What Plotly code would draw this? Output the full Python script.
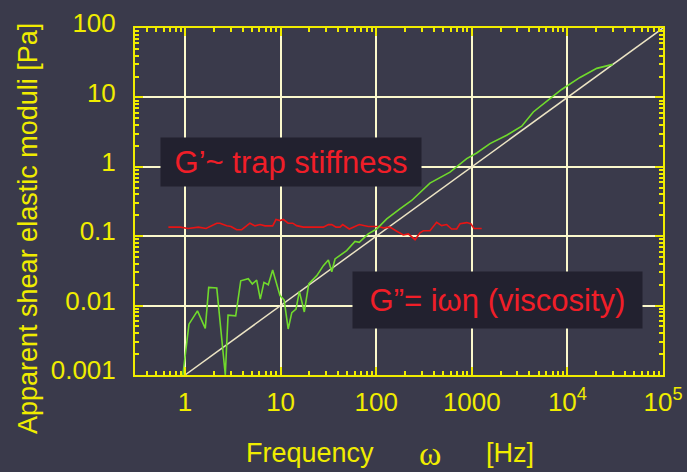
import plotly.graph_objects as go

# ---- data ----
green_x = [0.95, 1.10, 1.35, 1.63, 1.77, 2.15, 2.64, 2.82, 3.39, 3.83, 4.59, 5.06, 5.62, 6.13, 6.70,
           7.43, 8.26, 9.86, 10.9, 12.0, 13.1, 14.5, 15.7, 17.7, 19.7, 23.9, 28.0, 31.6, 34.3, 37.1,
           49.1, 60.0, 66.5, 82.6, 101, 129, 177, 235, 365, 592, 885, 1125, 1550, 2317, 3327,
           4400, 6577, 8710, 13550, 20280, 29800]
green_y = [0.001, 0.0054, 0.0084, 0.0047, 0.0183, 0.0179, 0.001, 0.0073, 0.0071, 0.0228, 0.0244,
           0.0205, 0.0233, 0.0124, 0.0216, 0.0200, 0.0326, 0.0139, 0.0120, 0.0046, 0.0079, 0.0089,
           0.0160, 0.0081, 0.0205, 0.0270, 0.0376, 0.0455, 0.0308, 0.047, 0.062, 0.0843, 0.0816,
           0.108, 0.127, 0.178, 0.248, 0.327, 0.581, 0.838, 1.31, 1.58, 2.16, 2.85, 3.84, 6.17,
           9.64, 13.0, 19.4, 26.2, 29.9]

red_x = [0.67, 0.89, 1.08, 1.38, 1.66, 2.15, 2.32, 2.73, 3.03, 3.47, 3.92, 4.78, 5.40, 6.09, 6.87,
         8.26, 8.95, 9.86, 10.7, 12.0, 13.4, 14.7, 17.3, 25.8, 28.0, 31.6, 34.3, 38.0, 41.8, 44.6,
         52.3, 57.6, 66.5, 82.6, 105, 119, 139, 164, 192, 217, 255, 287, 311, 365, 429, 484, 546,
         616, 695, 753, 885, 975, 1055, 1270]
red_y = [0.135, 0.135, 0.129, 0.135, 0.129, 0.154, 0.154, 0.141, 0.138, 0.124, 0.124, 0.154, 0.141,
         0.147, 0.141, 0.141, 0.174, 0.168, 0.174, 0.154, 0.154, 0.142, 0.135, 0.135, 0.135, 0.147,
         0.147, 0.135, 0.135, 0.147, 0.127, 0.135, 0.147, 0.138, 0.138, 0.132, 0.135, 0.118, 0.104,
         0.108, 0.089, 0.112, 0.120, 0.120, 0.159, 0.142, 0.147, 0.127, 0.127, 0.151, 0.157, 0.151,
         0.129, 0.129]

diag_x = [1, 1e5]
diag_y = [0.001, 100]

x_tickvals = [1, 10, 100, 1000, 1e4, 1e5]
x_ticktext = ["1", "10", "100", "1000", "10<sup>4</sup>", "10<sup>5</sup>"]
y_tickvals = [0.001, 0.01, 0.1, 1, 10, 100]
y_ticktext = ["0.001", "0.01", "0.1", "1", "10", "100"]

BG = "#3a3a4b"
BOX = "#22212f"
YEL = "#f0ec00"
GRID = "#fbf8cc"
RED = "#f01e28"
FONT = "Arial, Liberation Sans, sans-serif"

fig = go.Figure()
fig.add_trace(go.Scatter(x=diag_x, y=diag_y, mode="lines",
                         line=dict(color="#ece4c4", width=1.5), showlegend=False))
fig.add_trace(go.Scatter(x=red_x, y=red_y, mode="lines",
                         line=dict(color="#e81414", width=1.6), showlegend=False))
fig.add_trace(go.Scatter(x=green_x, y=green_y, mode="lines",
                         line=dict(color="#70da2c", width=1.6), showlegend=False))

axis_common = dict(
    type="log", showline=True, linecolor=YEL, linewidth=2, mirror="ticks",
    ticks="inside", ticklen=8, tickwidth=2, tickcolor=YEL,
    showgrid=True, gridcolor=GRID, gridwidth=2, zeroline=False,
    tickfont=dict(family=FONT, size=26, color=YEL),
    minor=dict(ticks="inside", ticklen=4, tickwidth=1.5, tickcolor=YEL, showgrid=False, dtick="D1"),
)

fig.update_xaxes(range=[-0.523, 5], tickmode="array", tickvals=x_tickvals, ticktext=x_ticktext,
                 ticklabelstandoff=3, **axis_common)
fig.update_yaxes(range=[-3, 2], tickmode="array", tickvals=y_tickvals, ticktext=y_ticktext,
                 ticklabelstandoff=12, ticklabelshift=-5, **axis_common)

W, H = 687, 472
L, R, T, B = 135, 24, 28, 97
pw, ph = W - L - R, H - T - B


def px(x):
    return (x - L) / pw


def py(y):
    return (H - B - y) / ph


annots = [
    dict(text="G’~ trap stiffness", x=px(291), y=py(162), width=260, height=48,
         font=dict(family=FONT, size=31, color=RED), bgcolor=BOX),
    dict(text="G”= iωη (viscosity)", x=px(497), y=py(300), width=289, height=56,
         font=dict(family=FONT, size=31, color=RED), bgcolor=BOX),
    dict(text="Apparent shear elastic moduli [Pa]", x=px(28), y=py(229), textangle=-90,
         font=dict(family=FONT, size=27, color=YEL)),
    dict(text="Frequency", x=px(310), y=py(453), font=dict(family=FONT, size=27, color=YEL)),
    dict(text="ω", x=px(430), y=py(453), font=dict(family="Liberation Serif, Times New Roman, serif", size=34, color=YEL)),
    dict(text="[Hz]", x=px(510), y=py(453), font=dict(family=FONT, size=27, color=YEL)),
]
for a in annots:
    fig.add_annotation(xref="paper", yref="paper", xanchor="center", yanchor="middle",
                       showarrow=False, borderpad=0, **a)

fig.update_layout(
    width=W, height=H, margin=dict(l=L, r=R, t=T, b=B, autoexpand=False),
    paper_bgcolor=BG, plot_bgcolor=BG, showlegend=False,
)

fig.write_html("out.html")
